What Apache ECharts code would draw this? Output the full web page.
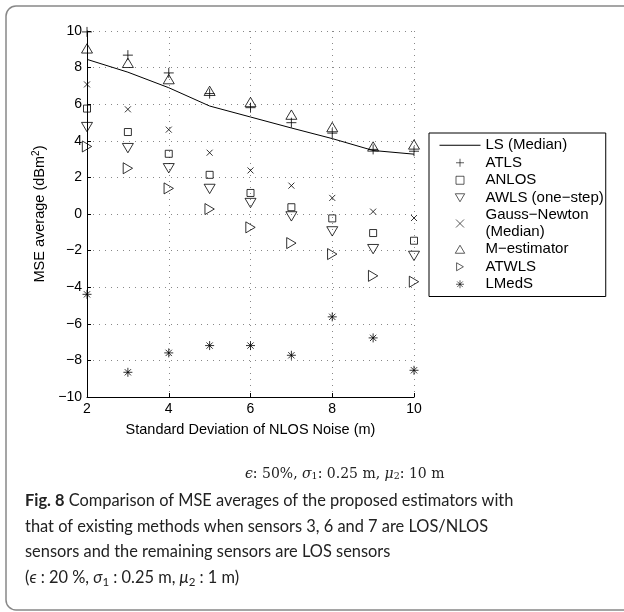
<!DOCTYPE html>
<html>
<head>
<meta charset="utf-8">
<script src="https://cdn.jsdelivr.net/npm/echarts@6/dist/echarts.min.js"></script>
<style>
html, body { margin: 0; padding: 0; background: #fff; }
#chart { width: 624px; height: 612px; }
</style>
</head>
<body>
<div id="chart"></div>
<script>
// x: standard deviation of NLOS noise (m)
var noise = [2, 3, 4, 5, 6, 7, 8, 9, 10];
// MSE averages (dBm^2)
var lsMedian = [8.45, 7.75, 6.9, 5.9, 5.3, 4.7, 4.12, 3.47, 3.27];
var atls = [9.95, 8.68, 7.71, 6.58, 5.81, 4.99, 4.42, 3.53, 3.43];
var anlos = [5.76, 4.48, 3.29, 2.14, 1.15, 0.37, -0.24, -1.04, -1.46];
var awls = [4.75, 3.6, 2.5, 1.37, 0.6, -0.13, -0.95, -1.92, -2.29];
var gaussNewton = [7.08, 5.72, 4.61, 3.35, 2.38, 1.55, 0.88, 0.13, -0.22];
var mEstimator = [9.05, 8.26, 7.37, 6.73, 6.12, 5.43, 4.75, 3.69, 3.8];
var atwls = [3.69, 2.5, 1.4, 0.27, -0.73, -1.59, -2.19, -3.38, -3.7];
var lmeds = [-4.39, -8.65, -7.59, -7.19, -7.19, -7.72, -5.62, -6.77, -8.54];
// axis ticks
var xTicks = [2, 4, 6, 8, 10];
var yTicks = [-10, -8, -6, -4, -2, 0, 2, 4, 6, 8, 10];

function pairs(arr) {
	return noise.map(function (x, i) { return [x, arr[i]]; });
}
function minus(v) {
	return v < 0 ? '\u2212' + Math.abs(v) : String(v);
}

var FONT = 'Liberation Sans';
var hollow = { color: 'none', borderColor: '#000', borderWidth: 1 };

// marker shapes (MATLAB style)
var SYM = {
	line: 'path://M0,0L0,0M0,4L41,4M41,8L41,8',
	plus: 'path://M0,-1L0,1M-1,0L1,0',
	square: 'path://M-1,-1L1,-1L1,1L-1,1Z',
	down: 'path://M-1,-0.85L1,-0.85L0,0.85Z',
	cross: 'path://M-1,-1L1,1M-1,1L1,-1',
	up: 'path://M0,-0.85L1,0.85L-1,0.85Z',
	right: 'path://M-0.85,-1L0.85,0L-0.85,1Z',
	star: 'path://M0,-1L0,1M-1,0L1,0M-0.7,-0.7L0.7,0.7M-0.7,0.7L0.7,-0.7'
};

function marker(name, data, symbol, size) {
	return {
		name: name,
		type: 'scatter',
		data: pairs(data),
		symbol: symbol,
		symbolSize: size,
		symbolKeepAspect: true,
		clip: false,
		itemStyle: hollow,
		emphasis: { disabled: true }
	};
}

var seriesNames = ['LS (Median)', 'ATLS', 'ANLOS', 'AWLS (one\u2212step)', 'Gauss\u2212Newton\n(Median)', 'M\u2212estimator', 'ATWLS', 'LMedS'];
var legendIcons = [SYM.line, SYM.plus, SYM.square, SYM.down, SYM.cross, SYM.up, SYM.right, SYM.star];

var myChart = echarts.init(document.getElementById('chart'));
myChart.setOption({
	animation: false,
	grid: { left: 87, right: 210, top: 31, bottom: 215 },
	legend: {
		orient: 'vertical',
		left: 429,
		top: 133,
		padding: [4, 2, 4, 8],
		itemGap: 1,
		itemWidth: 41,
		itemHeight: 8,
		borderColor: '#000',
		borderWidth: 1,
		selectedMode: false,
		itemStyle: { borderWidth: 0.8 },
		data: seriesNames.map(function (n, i) {
			var item = { name: n, icon: legendIcons[i] };
			if (i === 0) {
				item.itemStyle = { color: 'none', borderColor: '#000', borderWidth: 1 };
			}
			return item;
		}),
		textStyle: { fontFamily: FONT, fontSize: 15, lineHeight: 16.5, color: '#000' }
	},
	xAxis: {
		type: 'value',
		min: xTicks[0],
		max: xTicks[xTicks.length - 1],
		interval: xTicks[1] - xTicks[0],
		name: 'Standard Deviation of NLOS Noise (m)',
		nameLocation: 'middle',
		nameGap: 25,
		nameTextStyle: { fontFamily: FONT, fontSize: 14.5, color: '#000' },
		axisLine: { onZero: false, lineStyle: { color: '#000', width: 1 } },
		axisTick: { inside: true, length: 4, lineStyle: { color: '#000' } },
		axisLabel: { fontFamily: FONT, fontSize: 14, color: '#000', margin: 5, formatter: minus },
		splitLine: { show: true, lineStyle: { color: '#888', type: [1, 5], width: 1 } }
	},
	yAxis: {
		type: 'value',
		min: yTicks[0],
		max: yTicks[yTicks.length - 1],
		interval: yTicks[1] - yTicks[0],
		name: 'MSE average (dBm{sup|2})',
		nameLocation: 'middle',
		nameGap: 36,
		nameTextStyle: {
			fontFamily: FONT, fontSize: 14.5, color: '#000',
			rich: { sup: { fontFamily: FONT, fontSize: 10, color: '#000', verticalAlign: 'top', padding: [0, 0, 8, 0] } }
		},
		axisLine: { onZero: false, lineStyle: { color: '#000', width: 1 } },
		axisTick: { inside: true, length: 4, lineStyle: { color: '#000' } },
		axisLabel: { fontFamily: FONT, fontSize: 14, color: '#000', margin: 5, formatter: minus },
		splitLine: { show: true, lineStyle: { color: '#888', type: [1, 5], width: 1 } }
	},
	series: [
		{
			name: seriesNames[0],
			type: 'line',
			data: pairs(lsMedian),
			symbol: 'none',
			lineStyle: { color: '#000', width: 1 },
			itemStyle: { color: '#000' },
			emphasis: { disabled: true }
		},
		marker(seriesNames[1], atls, SYM.plus, 10),
		marker(seriesNames[2], anlos, SYM.square, 7),
		marker(seriesNames[3], awls, SYM.down, 11),
		marker(seriesNames[4], gaussNewton, SYM.cross, 6),
		marker(seriesNames[5], mEstimator, SYM.up, 11),
		marker(seriesNames[6], atwls, SYM.right, 11),
		marker(seriesNames[7], lmeds, SYM.star, 9)
	],
	graphic: [
		{
			type: 'rect',
			shape: { x: 6, y: 6, width: 700, height: 604, r: 10 },
			style: { fill: 'none', stroke: '#888', lineWidth: 1.5 },
			silent: true
		},
		{
			type: 'text',
			left: 245,
			top: 467,
			style: {
				text: '{i|\u03f5}: 50%, {i|\u03c3}{s|1}: 0.25 m, {i|\u03bc}{s|2}: 10 m',
				fontFamily: 'DejaVu Serif',
				fontSize: 14,
				fill: '#222',
				rich: {
					i: { fontFamily: 'DejaVu Serif', fontStyle: 'italic', fontSize: 14, fill: '#222' },
					s: { fontFamily: 'DejaVu Serif', fontSize: 9.5, fill: '#222', verticalAlign: 'bottom', padding: [6, 0, 0, 0] }
				}
			}
		},
		{
			type: 'text',
			left: 25,
			top: 488,
			style: {
				text: '{b|Fig. 8} Comparison of MSE averages of the proposed estimators with\n' +
					'that of existing methods when sensors 3, 6 and 7 are LOS/NLOS\n' +
					'sensors and the remaining sensors are LOS sensors\n' +
					'({i|\u03f5} : 20 %, {i|\u03c3}{s|1} : 0.25 m, {i|\u03bc}{s|2} : 1 m)',
				fontFamily: 'Lato',
				fontSize: 16.4,
				lineHeight: 25.5,
				fill: '#222',
				rich: {
					b: { fontFamily: 'Lato', fontWeight: 'bold', fontSize: 16.4, lineHeight: 25.5, fill: '#222' },
					i: { fontFamily: 'Lato', fontStyle: 'italic', fontSize: 16.4, lineHeight: 25.5, fill: '#222' },
					s: { fontFamily: 'Lato', fontSize: 11.5, lineHeight: 25.5, fill: '#222', padding: [10, 0, 0, 0] }
				}
			}
		}
	]
});
</script>
</body>
</html>
